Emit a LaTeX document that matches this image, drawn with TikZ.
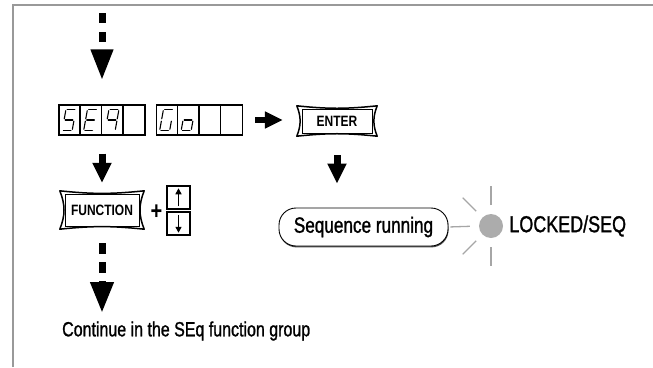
\documentclass[tikz,border=0pt]{standalone}
\usepackage{fontspec}
\setmainfont[FakeStretch=0.8]{Liberation Sans}
\newfontfamily\medfont[FakeStretch=0.78,FakeBold=1.2]{Liberation Sans}
\usetikzlibrary{arrows.meta,calc,positioning,shadows}

% seven-segment character: #1 centre, #2 list of segments (from/to)
\newcommand{\segchar}[2]{%
  \begin{scope}[shift={#1},xslant=0.18,yscale=-1]
    \coordinate (tl) at (-5,10.5);  \coordinate (tr) at (5,10.5);
    \coordinate (ml) at (-5,0);     \coordinate (mr) at (5,0);
    \coordinate (bl) at (-5,-10.5); \coordinate (br) at (5,-10.5);
    \foreach \p/\q in {#2} \draw[seg] (\p) -- (\q);
  \end{scope}}

% cushion outline of a key
\newcommand{\keyframe}[1]{%
  \draw[keyedge] (#1.north west) to[bend right=6] (#1.north east)
    to[bend right=22] (#1.south east) to[bend right=6] (#1.south west)
    to[bend right=22] (#1.north west);
  \draw[keyinner] ($(#1.north west)+(5,3)$) rectangle ($(#1.south east)+(-5,-3)$);}

\begin{document}
\begin{tikzpicture}[x=1pt,y=-1pt,
    outline/.style={draw=gray!80,line width=2pt},
    display/.style={draw,line width=1.4pt,minimum width=86pt,minimum height=30pt,
                    inner sep=0pt},
    cell/.style={line width=1.4pt},
    seg/.style={line width=1.1pt,line cap=round,shorten <=1.2pt,shorten >=1.2pt},
    keycap/.style={font=\bfseries\fontsize{15}{15}\selectfont,inner sep=0pt},
    keyedge/.style={line width=1.5pt,line join=round,line cap=round},
    keyinner/.style={line width=0.4pt},
    arrowkey/.style={draw,line width=1.5pt,minimum size=23pt,inner sep=0pt},
    fat/.style={line width=7pt,-{Triangle[length=20pt,width=18pt]}},
    fatdash/.style={line width=7pt,dash pattern=on 10pt off 9pt,
                    -{Triangle[length=31pt,width=21pt]}},
    tinyarrow/.style={line width=1.7pt,-{Triangle[length=6pt,width=6pt]}},
    seqbox/.style={draw,fill=white,rounded corners=17pt,line width=0.9pt,
                   minimum width=169pt,minimum height=38pt,inner sep=0pt,
                   font=\medfont\fontsize{22}{24}\selectfont,
                   drop shadow={shadow xshift=0.5pt,shadow yshift=-1.4pt,
                                fill=black!70,opacity=1}},
    led/.style={circle,fill=gray!65,minimum size=24pt,inner sep=0pt},
    ray/.style={draw=gray!70,line width=1.3pt},
    ledtext/.style={font=\medfont\fontsize{23}{25}\selectfont,inner sep=0pt},
    note/.style={font=\medfont\fontsize{20.5}{22}\selectfont,inner sep=0pt},
]
\useasboundingbox (0,0) rectangle (653,367);

% ---- Frame ---------------------------------------------------------------
\draw[outline] (13,367) -- (13,5) -- (653,5);

% ---- Displays ------------------------------------------------------------
\node[display] (dispSEQ) at (102,120) {};
\node[display] (dispGO)  at (199.5,120) {};
\foreach \d in {dispSEQ,dispGO}
  \foreach \i in {1,2,3}
    \draw[cell] ($(\d.north west)+(\i*21.5,0)$) -- ($(\d.south west)+(\i*21.5,0)$);

\segchar{($(dispSEQ.west)+(10.75,0)$)}{tl/tr,tl/ml,ml/mr,mr/br,bl/br}
\segchar{($(dispSEQ.west)+(32.25,0)$)}{tl/tr,tl/ml,ml/mr,ml/bl,bl/br}
\segchar{($(dispSEQ.west)+(53.75,0)$)}{tl/tr,tl/ml,tr/mr,ml/mr,mr/br}
\segchar{($(dispGO.west)+(10.75,0)$)}{tl/tr,tl/ml,ml/bl,bl/br,mr/br}
\segchar{($(dispGO.west)+(32.25,0)$)}{ml/mr,ml/bl,bl/br,mr/br}

% ---- Keys ----------------------------------------------------------------
\node[keycap,minimum width=80pt,minimum height=30pt] (enter) at (337,121) {ENTER};
\keyframe{enter}
\node[keycap,minimum width=84pt,minimum height=38pt] (fn) at (102,210) {FUNCTION};
\keyframe{fn}

\node[font=\bfseries\fontsize{25}{25}\selectfont,inner sep=0pt] (plus) at (156.5,212) {+};
\node[arrowkey] (keyup)   at (178.5,197.5) {};
\node[arrowkey] (keydown) at (178.5,223.5) {};
\draw[tinyarrow,shorten <=3.5pt,shorten >=3pt] (keyup.south) -- (keyup.north);
\draw[tinyarrow,shorten <=3.5pt,shorten >=3pt] (keydown.north) -- (keydown.south);

% ---- Sequence / LED ------------------------------------------------------
\node[seqbox] (seqrun) at (363.5,227) {Sequence running};
\node[led] (led) at (491,226) {};
\foreach \a in {90,135,225,270}
  \draw[ray] ($(led.center)+(\a:21)$) -- ($(led.center)+(\a:40)$);
\draw[ray,shorten <=2pt,shorten >=9pt] (seqrun.east) -- (led.west);
\node[ledtext,anchor=west] (locked) at ($(led.east)+(6,0)$) {LOCKED/SEQ};

% ---- Arrows --------------------------------------------------------------
\coordinate (entry) at (102,13);
\draw[fatdash,shorten >=24pt] (entry) -- (dispSEQ.north);
\draw[fat,shorten <=18pt,shorten >=8pt] (dispSEQ.south) -- (fn.north);
\draw[fat,line width=6pt,-{Triangle[length=18pt,width=16pt]},
      shorten <=12pt,shorten >=14pt] (dispGO.east) -- (dispGO.east -| enter.west);
\draw[fat,shorten <=19pt,shorten >=24pt] (enter.south) -- (enter.south |- seqrun.north);

\coordinate (exit) at (102,313);
\draw[fatdash,dash pattern=on 11pt off 8pt,shorten <=14pt,
      -{Triangle[length=31pt,width=22pt]}] (fn.south) -- (exit);
\node[note,anchor=west] (cont) at (62,331) {Continue in the SEq function group};

\end{tikzpicture}
\end{document}
